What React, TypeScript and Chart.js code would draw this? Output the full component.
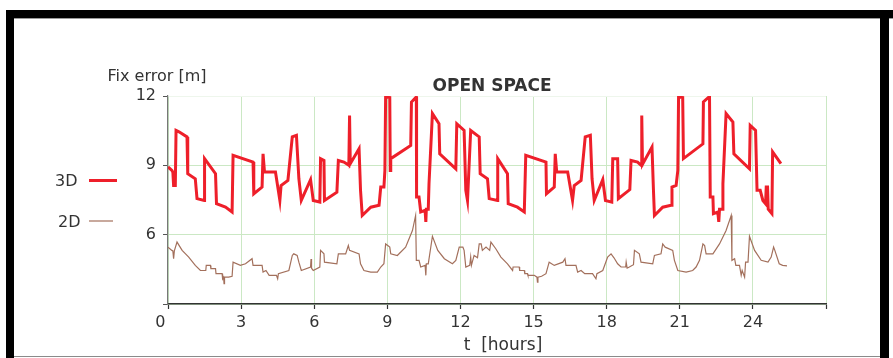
import React, { useEffect, useRef } from "react";
import { Chart, registerables } from "chart.js";

Chart.register(...registerables);

const FONT = "'DejaVu Sans', 'Liberation Sans', sans-serif";

const xTicks = [0, 3, 6, 9, 12, 15, 18, 21, 24, 27];
const xTickLabels = ["0", "3", "6", "9", "12", "15", "18", "21", "24", ""];
const yTicks = [3, 6, 9, 12];
const yTickLabels = ["", "6", "9", "12"];

const seriesLabels = ["3D", "2D"];

const hours3D = [
  0.0, 0.16, 0.2, 0.23, 0.3, 0.33, 0.45, 0.78, 0.81, 1.12, 1.19, 1.49, 1.5, 1.95, 1.99, 2.36, 2.63, 2.67,
  3.49, 3.52, 3.86, 3.9, 3.96, 4.41, 4.59, 4.64, 4.92, 5.1, 5.27, 5.37, 5.47, 5.85, 5.96, 6.23, 6.26,
  6.4, 6.42, 6.93, 6.99, 7.22, 7.42, 7.45, 7.48, 7.84, 7.9, 7.97, 8.32, 8.66, 8.73, 8.86, 8.9, 8.93,
  9.1, 9.12, 9.14, 9.96, 9.99, 10.19, 10.2, 10.3, 10.37, 10.55, 10.58, 10.6, 10.68, 10.71, 10.85,
  11.12, 11.15, 11.81, 11.85, 12.15, 12.22, 12.29, 12.42, 12.77, 12.81, 13.11, 13.18, 13.52, 13.53,
  13.93, 13.96, 14.34, 14.62, 14.68, 15.51, 15.53, 15.85, 15.89, 15.95, 16.4, 16.6, 16.67, 16.95,
  17.12, 17.33, 17.4, 17.49, 17.84, 17.95, 18.21, 18.25, 18.45, 18.48, 18.95, 19.0, 19.27, 19.41,
  19.44, 19.47, 19.86, 19.92, 19.96, 20.3, 20.64, 20.68, 20.85, 20.92, 20.95, 21.12, 21.15, 21.95,
  21.97, 22.22, 22.25, 22.36, 22.38, 22.56, 22.6, 22.63, 22.74, 22.77, 22.9, 23.18, 23.22, 23.86,
  23.89, 24.11, 24.17, 24.3, 24.41, 24.52, 24.55, 24.57, 24.6, 24.63, 24.78, 24.81, 25.15,
];
const error3D = [
  8.93, 8.78, 8.7, 8.13, 8.13, 10.51, 10.45, 10.23, 8.64, 8.42, 7.56, 7.48, 9.29, 8.64, 7.34, 7.19, 6.98, 9.43,
  9.14, 7.77, 8.06, 9.5, 8.71, 8.71, 7.48, 8.13, 8.35, 10.23, 10.3, 8.42, 7.48, 8.38, 7.48, 7.41, 9.29,
  9.21, 7.48, 7.84, 9.21, 9.14, 9.0, 11.16, 9.07, 9.72, 7.92, 6.83, 7.19, 7.27, 8.06, 8.06, 8.78, 11.96,
  11.93, 8.78, 9.29, 9.86, 11.74, 11.96, 7.63, 7.63, 6.98, 7.05, 6.55, 7.1, 7.1, 8.2, 11.24,
  10.8, 9.5, 8.85, 10.8, 10.51, 7.92, 7.48, 10.51, 10.23, 8.64, 8.42, 7.56, 7.48, 9.29,
  8.64, 7.34, 7.19, 6.98, 9.43, 9.14, 7.77, 8.06, 9.5, 8.71, 8.71, 7.48, 8.13, 8.35,
  10.23, 10.3, 8.42, 7.48, 8.38, 7.48, 7.41, 9.29, 9.29, 7.56, 7.95, 9.21, 9.14, 9.0,
  11.16, 9.04, 9.79, 7.92, 6.83, 7.19, 7.27, 8.06, 8.13, 8.78, 11.96, 11.93, 9.29, 9.93,
  11.74, 11.98, 7.63, 7.63, 6.91, 6.98, 6.55, 7.1, 7.1, 8.2, 11.24, 10.87, 9.5, 8.85,
  10.73, 10.51, 7.92, 7.92, 7.48, 7.34, 8.13, 7.3, 8.13, 7.1, 6.91, 9.58, 9.07,
];

const hours2D = [
  0.0, 0.16, 0.2, 0.23, 0.26, 0.37, 0.58, 0.85, 1.12, 1.33, 1.55, 1.57, 1.74, 1.76, 1.95, 1.97, 2.22,
  2.24, 2.28, 2.3, 2.32, 2.49, 2.63, 2.67, 2.97, 3.18, 3.45, 3.49, 3.86, 3.9, 4.02, 4.15, 4.45, 4.5,
  4.53, 4.96, 5.1, 5.16, 5.3, 5.37, 5.47, 5.85, 5.87, 5.89, 5.96, 6.23, 6.26, 6.4, 6.42, 6.93, 6.99,
  7.29, 7.4, 7.45, 7.84, 7.9, 8.04, 8.32, 8.59, 8.73, 8.86, 8.93, 9.1, 9.14, 9.41, 9.75, 10.03, 10.16,
  10.19, 10.3, 10.37, 10.55, 10.58, 10.6, 10.68, 10.85, 11.07, 11.34, 11.67, 11.81, 11.95, 12.1,
  12.15, 12.22, 12.38, 12.42, 12.45, 12.56, 12.7, 12.77, 12.85, 12.9, 13.05, 13.2, 13.25, 13.45,
  13.66, 13.93, 14.14, 14.16, 14.41, 14.43, 14.62, 14.64, 14.75, 14.77, 15.03, 15.14, 15.16, 15.18,
  15.33, 15.51, 15.64, 15.85, 16.2, 16.29, 16.33, 16.74, 16.81, 16.95, 17.1, 17.42, 17.56, 17.6,
  17.84, 18.04, 18.18, 18.3, 18.45, 18.59, 18.78, 18.8, 18.84, 18.93, 19.1, 19.14, 19.34, 19.41,
  19.89, 19.96, 20.23, 20.3, 20.4, 20.71, 20.78, 20.92, 21.26, 21.53, 21.67, 21.81, 21.95, 22.02,
  22.08, 22.36, 22.63, 22.9, 23.11, 23.14, 23.25, 23.3, 23.45, 23.52, 23.56, 23.66, 23.7, 23.8,
  23.86, 24.07, 24.34, 24.62, 24.75, 24.85, 24.9, 25.08, 25.22, 25.4,
];
const error2D = [
  5.46, 5.32, 5.3, 4.96, 5.3, 5.68, 5.32, 5.03, 4.67, 4.45, 4.45, 4.67, 4.67, 4.53, 4.53, 4.31, 4.31,
  4.09, 4.16, 3.88, 4.16, 4.16, 4.2, 4.81, 4.67, 4.74, 4.96, 4.67, 4.67, 4.38, 4.45, 4.24, 4.24, 4.09,
  4.31, 4.45, 5.1, 5.17, 5.1, 4.81, 4.45, 4.6, 4.95, 4.55, 4.45, 4.6, 5.32, 5.17, 4.81, 4.74, 5.17,
  5.17, 5.53, 5.32, 5.17, 4.74, 4.45, 4.38, 4.38, 4.6, 4.74, 5.6, 5.46, 5.17, 5.1, 5.46, 6.18, 6.83,
  4.89, 4.89, 4.6, 4.67, 4.24, 4.74, 4.74, 5.93, 5.32, 4.96, 4.74, 4.89, 5.46, 5.46,
  5.32, 4.6, 4.67, 5.03, 4.67, 5.1, 5.0, 5.6, 5.6, 5.32, 5.46, 5.32, 5.68, 5.39,
  5.03, 4.74, 4.45, 4.6, 4.6, 4.45, 4.45, 4.31, 4.31, 4.24, 4.24, 4.16, 3.95, 4.16,
  4.2, 4.31, 4.81, 4.67, 4.81, 4.96, 4.67, 4.67, 4.38, 4.45, 4.31, 4.31, 4.09, 4.31,
  4.45, 5.03, 5.17, 5.0, 4.74, 4.6, 4.6, 4.81, 4.55, 4.6, 4.7, 5.32, 5.17, 4.81,
  4.74, 5.1, 5.17, 5.6, 5.46, 5.32, 4.89, 4.45, 4.38, 4.45, 4.6, 4.89, 5.6, 5.53,
  5.17, 5.17, 5.6, 6.18, 6.83, 4.89, 4.96, 4.67, 4.67, 4.24, 4.45, 4.16, 4.81, 4.81,
  5.93, 5.32, 4.89, 4.81, 5.03, 5.46, 5.32, 4.74, 4.67, 4.65,
];

const RED = "#ee1f2a";
const BROWN = "#a3705c";

const annotationPlugin = {
  id: "annotations",
  afterDraw(chart: any) {
    const ctx = chart.ctx;
    const ds = chart.data.datasets;
    ctx.save();
    ctx.fillStyle = "#333333";
    ctx.textBaseline = "alphabetic";
    ctx.textAlign = "center";
    ctx.font = `16px ${FONT}`;
    ctx.fillText("Fix error [m]", 157, 81);
    ctx.font = `17px ${FONT}`;
    ctx.fillText("t  [hours]", 503, 350);
    ctx.font = `bold 17px ${FONT}`;
    ctx.fillText("OPEN SPACE", 492, 91);

    // legend
    ctx.font = `16px ${FONT}`;
    ctx.textAlign = "left";
    ctx.fillText(ds[0].label, 55, 186);
    ctx.fillText(ds[1].label, 58, 227);
    ctx.lineCap = "butt";
    ctx.strokeStyle = ds[0].borderColor;
    ctx.lineWidth = 3;
    ctx.beginPath();
    ctx.moveTo(89, 180.5);
    ctx.lineTo(117, 180.5);
    ctx.stroke();
    ctx.strokeStyle = ds[1].borderColor;
    ctx.lineWidth = 1.2;
    ctx.beginPath();
    ctx.moveTo(89, 221);
    ctx.lineTo(113, 221);
    ctx.stroke();
    ctx.restore();
  },
};

export default function App() {
  const canvasRef = useRef<HTMLCanvasElement | null>(null);

  useEffect(() => {
    const canvas = canvasRef.current;
    if (!canvas) return;
    const chart = new Chart(canvas, {
      type: "line",
      data: {
        datasets: [
          {
            label: seriesLabels[0],
            data: hours3D.map((h, i) => ({ x: h, y: error3D[i] })),
            borderColor: RED,
            borderWidth: 3,
            pointRadius: 0,
            tension: 0,
            fill: false,
            borderJoinStyle: "miter",
          },
          {
            label: seriesLabels[1],
            data: hours2D.map((h, i) => ({ x: h, y: error2D[i] })),
            borderColor: BROWN,
            borderWidth: 1.2,
            pointRadius: 0,
            tension: 0,
            fill: false,
          },
        ],
      },
      options: {
        responsive: false,
        devicePixelRatio: 1,
        animation: false,
        layout: { padding: { top: 96, right: 67, left: 0, bottom: 0 } },
        plugins: {
          legend: { display: false },
          title: { display: false },
          tooltip: { enabled: false },
        },
        scales: {
          x: {
            type: "linear",
            min: xTicks[0],
            max: xTicks[xTicks.length - 1],
            afterBuildTicks: (s: any) => {
              s.ticks = xTicks.map((v) => ({ value: v }));
            },
            afterFit: (s: any) => {
              s.height = 54;
            },
            ticks: {
              autoSkip: false,
              maxRotation: 0,
              padding: 4,
              color: "#333333",
              font: { family: FONT, size: 16 },
              callback: (v: any) => {
                const lbl = xTickLabels[xTicks.indexOf(Number(v))] ?? "";
                return Number(v) === 0 ? lbl + "   " : lbl;
              },
            },
            grid: {
              color: "#cbe8c4",
              lineWidth: 1,
              drawTicks: true,
              tickLength: 5,
              tickColor: "#333333",
              tickWidth: 1.2,
            },
            border: { color: "#333333", width: 1.6 },
          },
          y: {
            type: "linear",
            min: yTicks[0],
            max: yTicks[yTicks.length - 1],
            afterBuildTicks: (s: any) => {
              s.ticks = yTicks.map((v) => ({ value: v }));
            },
            afterFit: (s: any) => {
              s.width = 168;
            },
            ticks: {
              padding: 7,
              color: "#333333",
              font: { family: FONT, size: 16 },
              callback: (v: any) => yTickLabels[yTicks.indexOf(Number(v))] ?? "",
            },
            grid: {
              color: (c: any) => (c.tick && c.tick.value === 12 ? "#eef6ec" : "#cbe8c4"),
              lineWidth: 1,
              drawTicks: true,
              tickLength: 5,
              tickColor: "#555555",
              tickWidth: 1,
            },
            border: { color: "#777777", width: 1.2 },
          },
        },
      },
      plugins: [annotationPlugin],
    });
    return () => chart.destroy();
  }, []);

  const box = (l: number, t: number, w: number, h: number, c: string) => (
    <div style={{ position: "absolute", left: l, top: t, width: w, height: h, background: c }} />
  );

  return (
    <div
      style={{
        position: "fixed",
        left: 0,
        top: 0,
        width: 893,
        height: 358,
        background: "#ffffff",
        overflow: "hidden",
      }}
    >
      <canvas ref={canvasRef} width={893} height={358} style={{ position: "absolute", left: 0, top: 0 }} />
      {box(6, 10, 887, 8, "#000000")}
      {box(14, 18, 879, 1, "#9a9a9a")}
      {box(6, 10, 8, 348, "#000000")}
      {box(880, 10, 9, 348, "#000000")}
      {box(14, 356, 866, 1, "#8a8a8a")}
    </div>
  );
}
